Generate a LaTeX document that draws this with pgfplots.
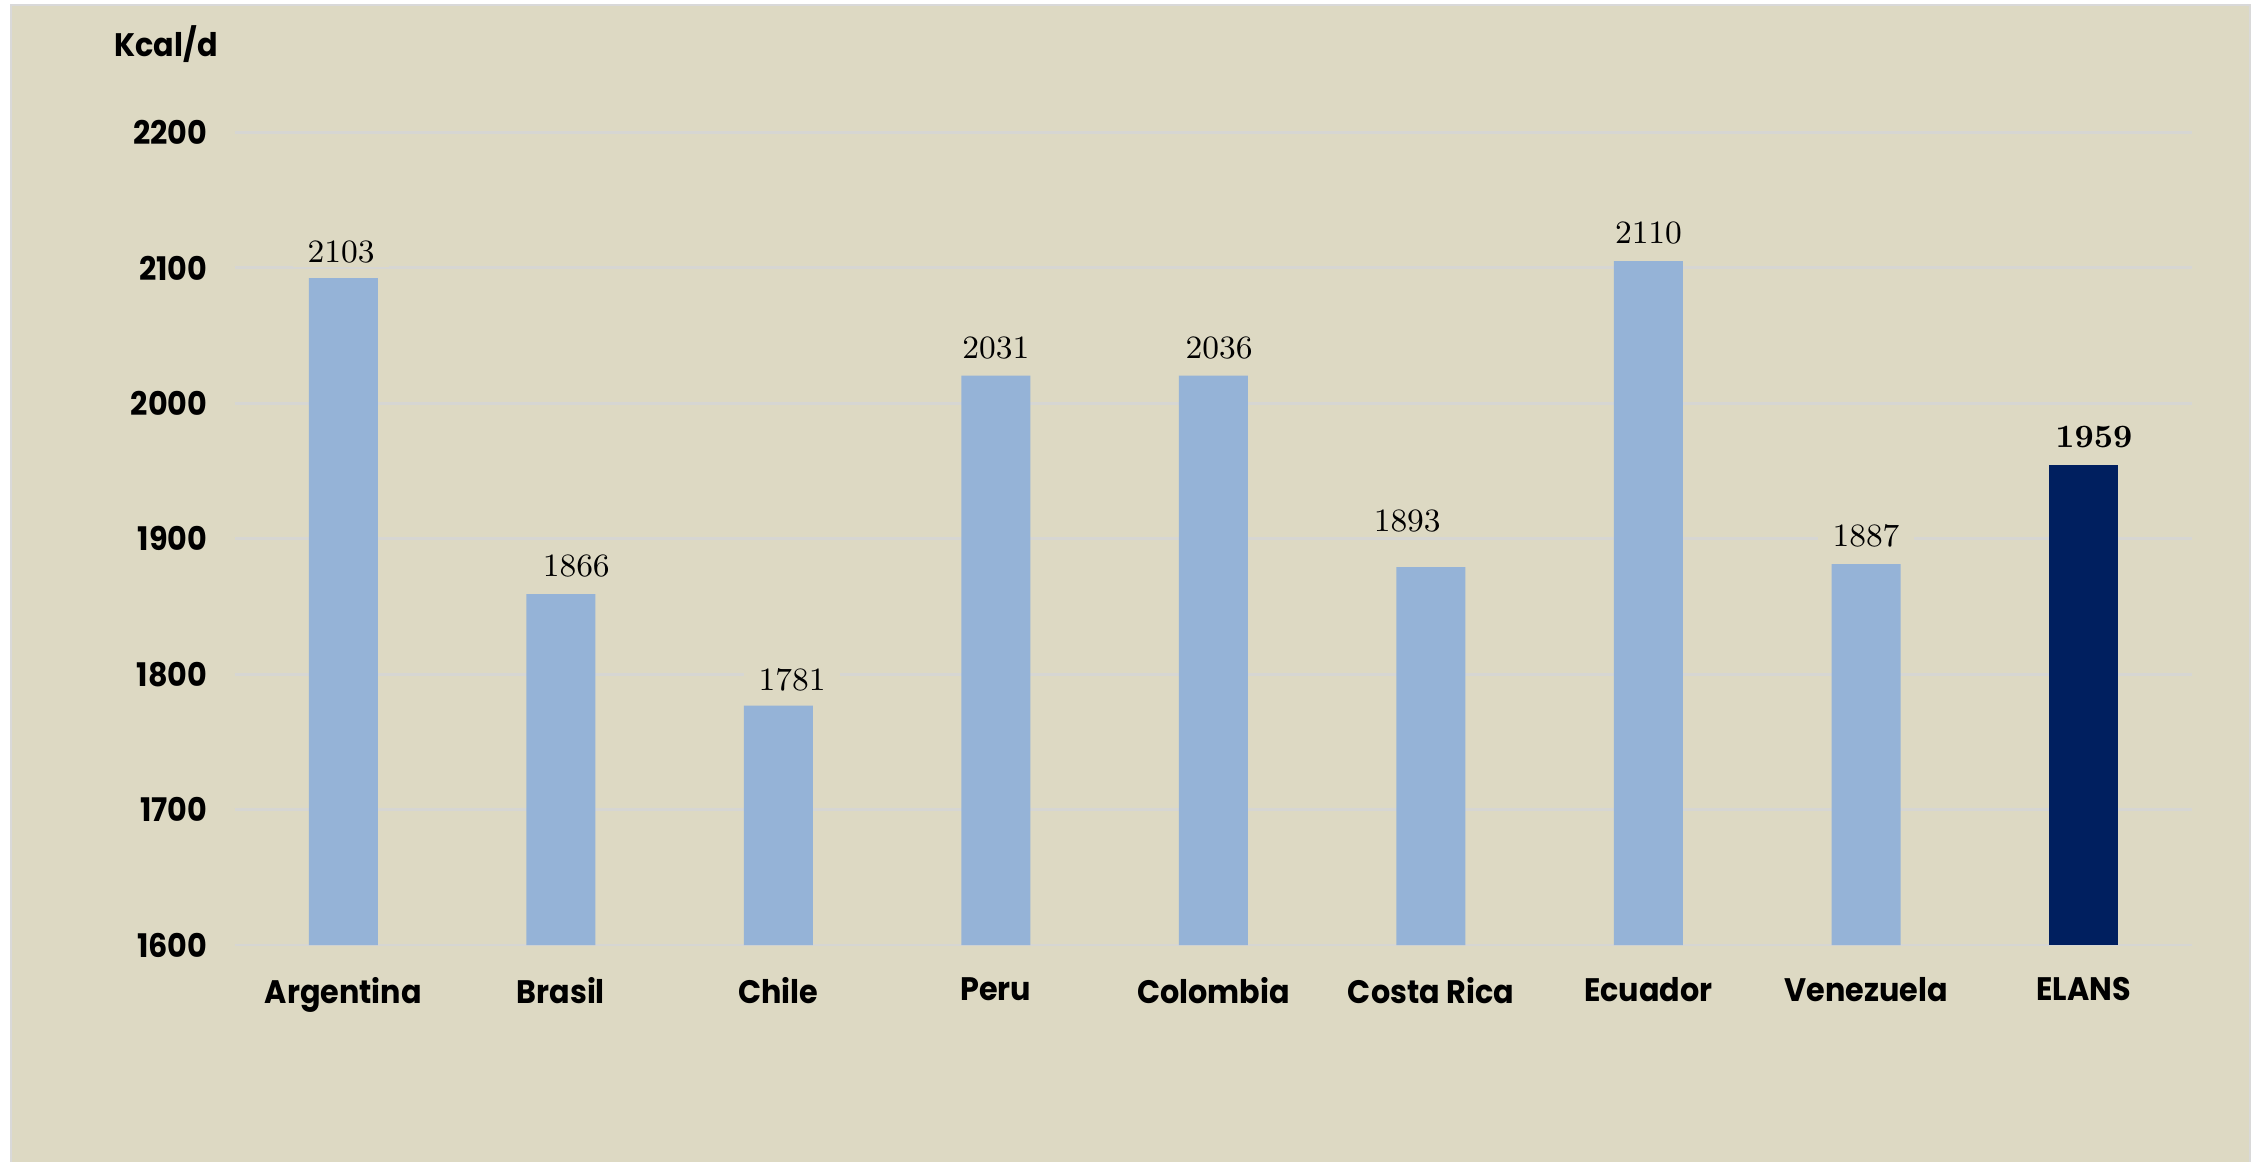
\documentclass[border=0pt]{standalone}
\usepackage{pgfplots}
\pgfplotsset{compat=1.18}
\usepackage{fontspec}
\newfontfamily\poppins[FakeStretch=0.93]{Poppins}
\definecolor{bg}{HTML}{DDD9C3}
\definecolor{barlight}{HTML}{95B3D7}
\definecolor{barnavy}{HTML}{001F5F}
\definecolor{gridc}{HTML}{D6D6D3}
\begin{document}
\begin{tikzpicture}
\useasboundingbox (0,0) rectangle (22cm,11.292cm);
\fill[white] (0,0) rectangle (22cm,11.292cm);
\filldraw[fill=bg, draw=gray!30, line width=0.6pt] (0.107cm,-0.1cm) rectangle (21.883cm,11.243cm);
\node[font=\poppins\bfseries\fontsize{9}{10}\selectfont] at (1.6145cm,10.864cm) {Kcal/d};
\begin{axis}[
  at={(2.281cm,2.101cm)}, anchor=south west,
  scale only axis, width=19.041cm, height=7.903cm,
  xmin=-0.5, xmax=8.5, ymin=1600, ymax=2200,
  ytick={1600,1700,...,2200},
  xtick={0,...,8},
  xticklabels={Argentina,Brasil,Chile,Peru,Colombia,Costa Rica,Ecuador,Venezuela,ELANS},
  axis line style={draw=none},
  major tick length=0pt,
  ymajorgrids, grid style={line width=0.8pt, color=gridc},
  /pgf/number format/1000 sep={},
  /pgf/number format/assume math mode=true,
  yticklabel style={font=\poppins\bfseries\fontsize{9}{10}\selectfont, xshift=-4pt},
  xticklabel style={font=\poppins\bfseries\fontsize{9}{10}\selectfont, yshift=-5.5pt},
  clip=false,
]
\addplot[ybar, bar width=0.3172, fill=barlight, draw=none] coordinates {
  (0,2092.4) (1,1859.1) (2,1776.8) (3,2020.5) (4,2020.5) (5,1879.1) (6,2105) (7,1881.3)
};
\addplot[ybar, bar width=0.3172, fill=barnavy, draw=none] coordinates {(8,1954.7)};
\addplot[draw=none, mark=none, nodes near coords, point meta=explicit symbolic,
  nodes near coords style={anchor=base, fill=bg, inner xsep=4pt, inner ysep=1pt,
    font=\fontsize{9}{10}\selectfont}]
  table[x=x, y=y, meta=t] {
x y t
-0.01 2104 2103
1.071 1872 1866
2.063 1788 1781
3.0 2033 2031
4.026 2033 2036
4.891 1905 1893
6.0 2118 2110
7.0 1894 1887
};
\addplot[draw=none, mark=none, nodes near coords, point meta=explicit symbolic,
  nodes near coords style={anchor=base, fill=bg, inner xsep=4pt, inner ysep=1pt,
    font=\bfseries\fontsize{9}{10}\selectfont}]
  table[x=x, y=y, meta=t] {
x y t
8.048 1967.5 1959
};
\end{axis}
\end{tikzpicture}
\end{document}
